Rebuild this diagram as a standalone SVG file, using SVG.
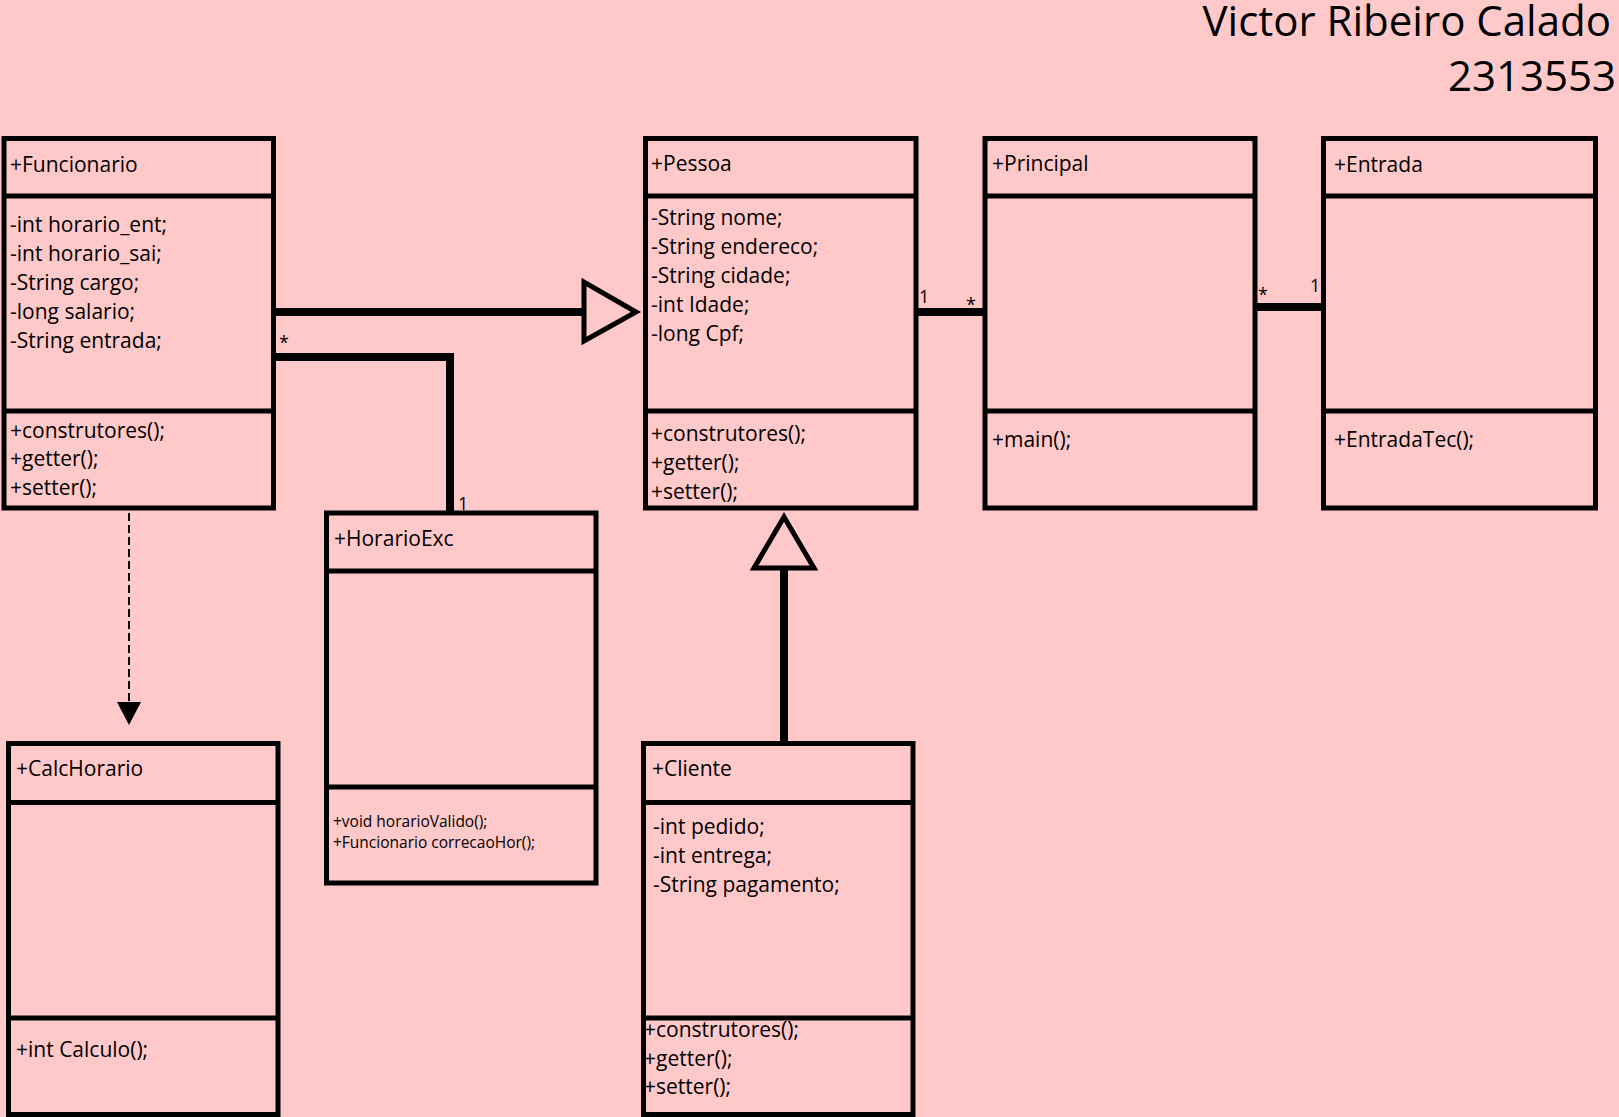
<svg xmlns="http://www.w3.org/2000/svg" width="1619" height="1117" viewBox="0 0 1619 1117">
<style>
.box{fill:none;stroke:#000;stroke-width:5}
.div{stroke:#000;stroke-width:5}
.t{font-family:"Open Sans","Liberation Sans",sans-serif;font-size:21px;fill:#000}
.s{font-family:"Open Sans","Liberation Sans",sans-serif;font-size:15.5px;fill:#000}
.h{font-family:"Open Sans","Liberation Sans",sans-serif;font-size:42px;fill:#000;text-anchor:end}
.thick{fill:none;stroke:#000;stroke-width:8}
.tri{fill:none;stroke:#000;stroke-width:5}
.lbl{font-family:"Open Sans","Liberation Sans",sans-serif;font-size:18px;fill:#000}
</style>
<rect width="1619" height="1117" fill="#FFC9C9"/>
<g id="title">
<text class="h" x="1611" y="36">Victor Ribeiro Calado</text>
<text class="h" x="1616" y="91">2313553</text>
</g>
<g id="connectors">
<line class="thick" x1="274" y1="312" x2="584" y2="312"/>
<polygon class="tri" points="584,282 584,341 636,312"/>
<polyline class="thick" points="274,357 450,357 450,513"/>
<text class="lbl" x="279" y="349">*</text>
<text class="lbl" x="458" y="510">1</text>
<line class="thick" x1="784" y1="743" x2="784" y2="568"/>
<polygon class="tri" points="754,568 814,568 784,517"/>
<line class="thick" x1="916" y1="312" x2="985" y2="312"/>
<text class="lbl" x="919" y="303">1</text>
<text class="lbl" x="966" y="311">*</text>
<line class="thick" x1="1255" y1="307" x2="1323" y2="307"/>
<text class="lbl" x="1258" y="301">*</text>
<text class="lbl" x="1310" y="292">1</text>
<line x1="129" y1="513" x2="129" y2="703" stroke="#000" stroke-width="2" stroke-dasharray="8,4"/>
<polygon points="117,702 141,702 129,725" fill="#000"/>
</g>
<g id="Funcionario">
<rect class="box" x="4" y="138.5" width="269.5" height="369.5"/>
<line class="div" x1="4" y1="196" x2="273.5" y2="196"/>
<line class="div" x1="4" y1="411" x2="273.5" y2="411"/>
<text class="t" x="10" y="172">+Funcionario</text>
<text class="t" x="10" y="232">-int horario_ent;</text>
<text class="t" x="10" y="261">-int horario_sai;</text>
<text class="t" x="10" y="290">-String cargo;</text>
<text class="t" x="10" y="319">-long salario;</text>
<text class="t" x="10" y="348">-String entrada;</text>
<text class="t" x="10" y="438">+construtores();</text>
<text class="t" x="10" y="466">+getter();</text>
<text class="t" x="10" y="495">+setter();</text>
</g>
<g id="Pessoa">
<rect class="box" x="645.5" y="138.5" width="270.5" height="369.5"/>
<line class="div" x1="645.5" y1="196" x2="916" y2="196"/>
<line class="div" x1="645.5" y1="411" x2="916" y2="411"/>
<text class="t" x="651" y="171">+Pessoa</text>
<text class="t" x="651" y="225">-String nome;</text>
<text class="t" x="651" y="254">-String endereco;</text>
<text class="t" x="651" y="283">-String cidade;</text>
<text class="t" x="651" y="312">-int Idade;</text>
<text class="t" x="651" y="341">-long Cpf;</text>
<text class="t" x="651" y="441">+construtores();</text>
<text class="t" x="651" y="470">+getter();</text>
<text class="t" x="651" y="499">+setter();</text>
</g>
<g id="Principal">
<rect class="box" x="985" y="138.5" width="270" height="369.5"/>
<line class="div" x1="985" y1="196" x2="1255" y2="196"/>
<line class="div" x1="985" y1="411" x2="1255" y2="411"/>
<text class="t" x="992" y="171">+Principal</text>
<text class="t" x="992" y="447">+main();</text>
</g>
<g id="Entrada">
<rect class="box" x="1323.5" y="138.5" width="272" height="369.5"/>
<line class="div" x1="1323.5" y1="196" x2="1595.5" y2="196"/>
<line class="div" x1="1323.5" y1="411" x2="1595.5" y2="411"/>
<text class="t" x="1334" y="172">+Entrada</text>
<text class="t" x="1334" y="447">+EntradaTec();</text>
</g>
<g id="HorarioExc">
<rect class="box" x="326.5" y="513" width="269.5" height="370"/>
<line class="div" x1="326.5" y1="571" x2="596" y2="571"/>
<line class="div" x1="326.5" y1="787" x2="596" y2="787"/>
<text class="t" x="334" y="546">+HorarioExc</text>
<text class="s" x="333" y="827">+void horarioValido();</text>
<text class="s" x="333" y="848">+Funcionario correcaoHor();</text>
</g>
<g id="CalcHorario">
<rect class="box" x="8.5" y="743.5" width="269.5" height="371"/>
<line class="div" x1="8.5" y1="802.5" x2="278" y2="802.5"/>
<line class="div" x1="8.5" y1="1018" x2="278" y2="1018"/>
<text class="t" x="16" y="776">+CalcHorario</text>
<text class="t" x="16" y="1057">+int Calculo();</text>
</g>
<g id="Cliente">
<rect class="box" x="643.5" y="743.5" width="269.5" height="371"/>
<line class="div" x1="643.5" y1="802.5" x2="913" y2="802.5"/>
<line class="div" x1="643.5" y1="1018" x2="913" y2="1018"/>
<text class="t" x="652" y="776">+Cliente</text>
<text class="t" x="653" y="834">-int pedido;</text>
<text class="t" x="653" y="863">-int entrega;</text>
<text class="t" x="653" y="892">-String pagamento;</text>
<text class="t" x="644" y="1037">+construtores();</text>
<text class="t" x="644" y="1066">+getter();</text>
<text class="t" x="644" y="1094">+setter();</text>
</g>
</svg>
